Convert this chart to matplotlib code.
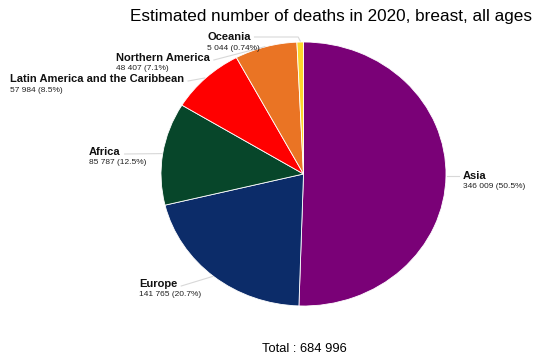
import numpy as np
import matplotlib.pyplot as plt

plt.rcParams['font.family'] = ['Liberation Sans', 'DejaVu Sans']

# data
regions = ['Asia', 'Europe', 'Africa', 'Latin America and the Caribbean',
           'Northern America', 'Oceania']
deaths = [346009, 141765, 85787, 57984, 48407, 5044]
pct_labels = ['50.5%', '20.7%', '12.5%', '8.5%', '7.1%', '0.74%']
colors = ['#7a0177', '#0c2c69', '#07462a', '#ff0000', '#ea7424', '#fdd52b']
total_label = 'Total : 684 996'
title = 'Estimated number of deaths in 2020, breast, all ages'

# label anchor positions in figure pixels (x left, y of name), top origin
label_pos = {
    'Asia': (463, 176),
    'Europe': (139, 284),
    'Africa': (89, 152),
    'Latin America and the Caribbean': (10, 79),
    'Northern America': (116, 58),
    'Oceania': (207, 37),
}

W, H = 545, 362
fig = plt.figure(figsize=(W / 100, H / 100), dpi=100)

# pie axes: slightly stretched horizontally like the original
cx, cy, rx, ry = 303.5, 174, 142.5, 132
ax = fig.add_axes([(cx - rx) / W, (H - cy - ry) / H, 2 * rx / W, 2 * ry / H])
wedges, _ = ax.pie(deaths, colors=colors, startangle=90, counterclock=False,
                   wedgeprops=dict(edgecolor='white', linewidth=0.6))
ax.set_aspect('auto')
ax.set_xlim(-1, 1)
ax.set_ylim(-1, 1)
ax.axis('off')

# overlay in pixel coordinates for labels
ov = fig.add_axes([0, 0, 1, 1], zorder=3)
ov.set_xlim(0, W)
ov.set_ylim(H, 0)
ov.axis('off')
ov.patch.set_alpha(0)

fig.canvas.draw()
renderer = fig.canvas.get_renderer()

def fmt(n):
    return f'{n:,}'.replace(',', ' ')

lead = '#d8d8d8'
for w, name, val, pct in zip(wedges, regions, deaths, pct_labels):
    lx, ly = label_pos[name]
    t1 = ov.text(lx, ly, name, fontsize=8, fontweight='bold', ha='left',
                 va='center', color='#111111')
    t2 = ov.text(lx, ly + 11, f'{fmt(val)} ({pct})', fontsize=6, ha='left',
                 va='center', color='#222222')
    # edge point at mid-angle of the wedge
    th = np.deg2rad((w.theta1 + w.theta2) / 2)
    disp = ax.transData.transform((np.cos(th), np.sin(th)))
    ex, ey = ov.transData.inverted().transform(disp)
    if ex > cx:
        sx = lx - 4
        ov.plot([ex + 1, sx], [ey, ey], color=lead, lw=0.8)
    else:
        bb = t1.get_window_extent(renderer)
        right = ov.transData.inverted().transform((bb.x1, bb.y0))[0]
        sx = right + 4
        sy = ly + 2
        if name == 'Oceania':
            ov.plot([sx, ex - 2, ex], [ly, ly, ey - 1], color=lead, lw=0.8)
        else:
            ov.plot([sx, ex - 1], [sy, ey], color=lead, lw=0.8)

ov.text(331, 17, title, fontsize=12.3, ha='center', va='center')
ov.text(304, 349, total_label, fontsize=9.3, ha='center', va='center')

fig.savefig('out.png', dpi=100)
